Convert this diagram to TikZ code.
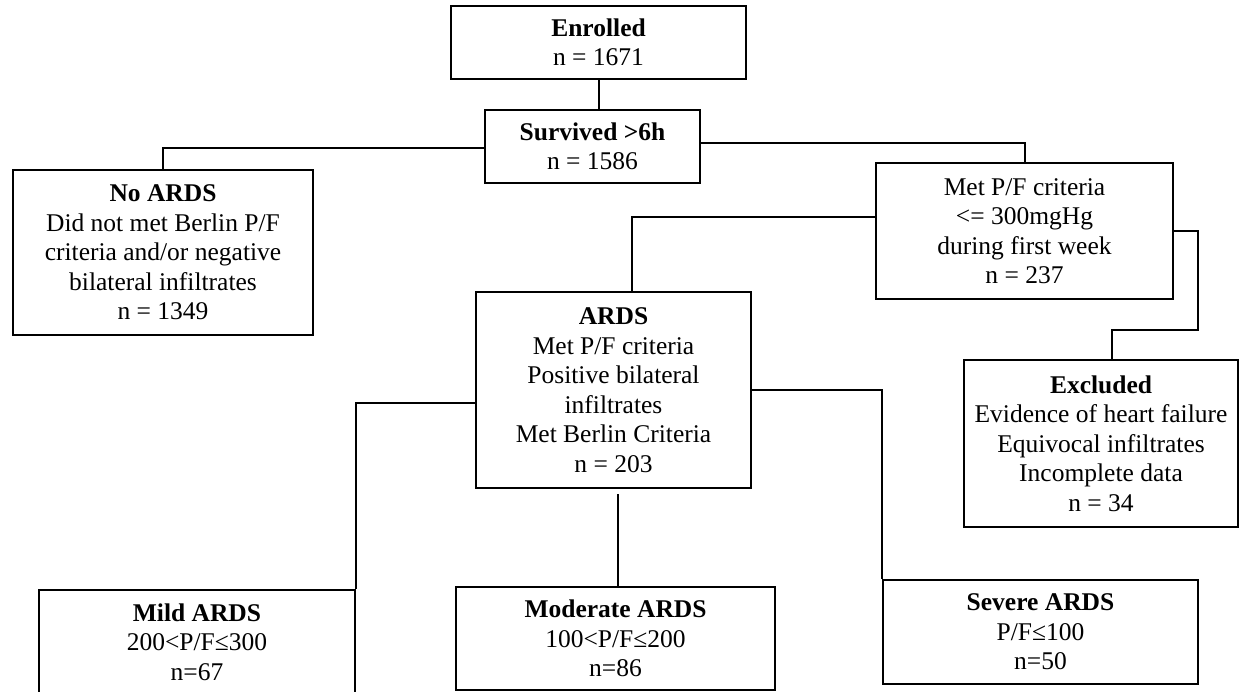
\documentclass[tikz,border=0pt]{standalone}
\usepackage{fontspec}
\setmainfont{Liberation Serif}
\usetikzlibrary{calc, positioning}
\tikzset{
    every node/.style={font=\fontsize{25.5}{29.5}\selectfont},
    stagebox/.style={draw, line width=2.4pt, align=center, inner sep=0pt},
    link/.style={draw, line width=2pt},
}

\begin{document}
\begin{tikzpicture}[x=1pt, y=-1pt]
    \useasboundingbox[fill=white] (0, 0) rectangle (1255, 692);
    % boxes
    \node[stagebox, minimum width=295, minimum height=73] (enrolled) at (598.5, 42.5)
        {\textbf{Enrolled}\\n = 1671};
    \node[stagebox, minimum width=215, minimum height=73] (survived) at (592.5, 146.5)
        {\textbf{Survived >6h}\\n = 1586};
    \node[stagebox, minimum width=300, minimum height=165] (noards) at (163, 252.5)
        {\textbf{No ARDS}\\Did not met Berlin P/F\\criteria and/or negative\\bilateral infiltrates\\n = 1349};
    \node[stagebox, minimum width=297, minimum height=136] (metpf) at (1024.5, 231)
        {Met P/F criteria\\<= 300mgHg\\during first week\\n = 237};
    \node[stagebox, minimum width=275, minimum height=196] (ards) at (613.5, 390)
        {\textbf{ARDS}\\Met P/F criteria\\Positive bilateral\\infiltrates\\Met Berlin Criteria\\n = 203};
    \node[stagebox, minimum width=274, minimum height=167] (excluded) at (1101, 443.5)
        {\textbf{Excluded}\\Evidence of heart failure\\Equivocal infiltrates\\Incomplete data\\n = 34};
    \node[stagebox, minimum width=316, minimum height=104] (mild) at (197, 642)
        {\textbf{Mild ARDS}\\200<P/F≤300\\n=67};
    \node[stagebox, minimum width=319, minimum height=103] (moderate) at (615.5, 638.5)
        {\textbf{Moderate ARDS}\\100<P/F≤200\\n=86};
    \node[stagebox, minimum width=315, minimum height=104] (severe) at (1040.5, 632)
        {\textbf{Severe ARDS}\\P/F≤100\\n=50};
    % connectors
    \coordinate (bend) at (1198, 330);
    \draw[link] (enrolled.south) -- (enrolled.south |- survived.north);
    \draw[link] ([yshift=-1.5]survived.west) -| (noards.north);
    \draw[link] ([yshift=3.5]survived.east) -| (metpf.north);
    \draw[link] ([yshift=14]metpf.west) -| ([xshift=18.5]ards.north);
    \draw[link] (metpf.east) -| (bend) -| ([xshift=11]excluded.north);
    \draw[link] ([yshift=-13]ards.west) -| (mild.north east);
    \draw[link] (ards.east) -| (severe.north west);
    \draw[link] ([xshift=4.5, yshift=-5]ards.south) -- ([xshift=2.5]moderate.north);
\end{tikzpicture}
\end{document}
